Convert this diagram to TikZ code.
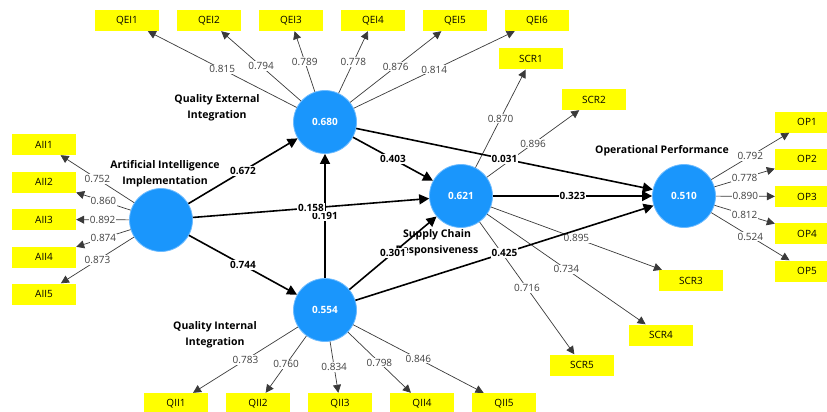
\documentclass[tikz,border=0pt]{standalone}
\usepackage{fontspec}
\setmainfont{Open Sans}
\usetikzlibrary{arrows.meta}

\begin{document}
\begin{tikzpicture}[x=1pt, y=-1pt,
    construct/.style={circle, fill=circleColour, draw=circleBorder, line width=0.8pt, minimum size=63pt, inner sep=0pt, text=white, font=\fontsize{10}{12}\selectfont\bfseries},
    indicator/.style={rectangle, fill=boxColour, minimum width=64pt, minimum height=21pt, inner sep=0pt, font=\fontsize{10}{12}\selectfont},
    caption/.style={align=center, font=\fontsize{10.5}{16}\selectfont\bfseries},
    loading/.style={draw=lineColour, line width=0.7pt, -{Triangle[length=8pt,width=8pt]}},
    structural/.style={draw=black, line width=1.6pt, -{Triangle[length=10pt,width=10pt]}},
    loadLabel/.style={fill=white, inner sep=1pt, text=labelColour, font=\fontsize{10}{12}\selectfont},
    pathLabel/.style={fill=white, inner sep=1pt, font=\fontsize{10}{12}\selectfont\bfseries}]
    \definecolor{circleColour}{HTML}{1A96FC}
    \definecolor{circleBorder}{HTML}{6DBBFF}
    \definecolor{boxColour}{HTML}{FFFF00}
    \definecolor{lineColour}{HTML}{3A3A3A}
    \definecolor{labelColour}{HTML}{404040}

    \useasboundingbox (0,0) rectangle (827,412);

    % Latent variables
    \node[construct] (AII) at (161,220) {};
    \node[construct] (QEI) at (325,122) {0.680};
    \node[construct] (QII) at (325,310) {0.554};
    \node[construct] (SCR) at (461,196) {0.621};
    \node[construct] (OP) at (684,196) {0.510};

    % Variable names
    \node[caption] (AIIname) at (165,174) {Artificial Intelligence\\Implementation};
    \node[caption] (QEIname) at (217,108) {Quality External\\Integration};
    \node[caption] (QIIname) at (215,335) {Quality Internal\\Integration};
    \node[caption] (SCRname) at (437,243) {Supply Chain\\Responsiveness};
    \node[caption] (OPname) at (662,151) {Operational Performance};

    % Indicators and loadings
    \foreach \i/\x/\v in {1/127/0.815, 2/209/0.794, 3/291/0.789, 4/373/0.778, 5/455/0.876, 6/537/0.814} {
        \node[indicator] (QEI\i) at (\x,20.5) {QEI\i};
        \draw[loading] (QEI) -- node[loadLabel] {\v} (QEI\i);
    }
    \foreach \i/\y/\v in {1/144.5/0.752, 2/182/0.860, 3/219.5/0.892, 4/257/0.874, 5/294/0.873} {
        \node[indicator] (AII\i) at (44,\y) {AII\i};
        \draw[loading] (AII) -- node[loadLabel] {\v} (AII\i);
    }
    \foreach \i/\x/\v in {1/176/0.783, 2/258/0.760, 3/340/0.834, 4/422/0.798, 5/504/0.846} {
        \node[indicator] (QII\i) at (\x,403.5) {QII\i};
        \draw[loading] (QII) -- node[loadLabel] {\v} (QII\i);
    }
    \foreach \i/\x/\y/\v in {1/531/59/0.870, 2/594/99.5/0.896, 3/691/280.5/0.895, 4/661/335/0.734, 5/582/365/0.716} {
        \node[indicator] (SCR\i) at (\x,\y) {SCR\i};
        \draw[loading] (SCR) -- node[loadLabel] {\v} (SCR\i);
    }
    \foreach \i/\y/\v in {1/122/0.792, 2/159/0.778, 3/196.5/0.890, 4/233.5/0.812, 5/271/0.524} {
        \node[indicator] (OP\i) at (807,\y) {OP\i};
        \draw[loading] (OP) -- node[loadLabel] {\v} (OP\i);
    }

    % Path coefficients
    \draw[structural] (AII) -- node[pathLabel] {0.672} (QEI);
    \draw[structural] (AII) -- node[pathLabel] {0.744} (QII);
    \draw[structural] (QII) -- node[pathLabel] {0.191} (QEI);
    \draw[structural] (AII) -- node[pathLabel] {0.158} (SCR);
    \draw[structural] (QEI) -- node[pathLabel] {0.403} (SCR);
    \draw[structural] (QII) -- node[pathLabel] {0.301} (SCR);
    \draw[structural] (QEI) -- node[pathLabel] {0.031} (OP);
    \draw[structural] (QII) -- node[pathLabel] {0.425} (OP);
    \draw[structural] (SCR) -- node[pathLabel] {0.323} (OP);

\end{tikzpicture}
\end{document}
